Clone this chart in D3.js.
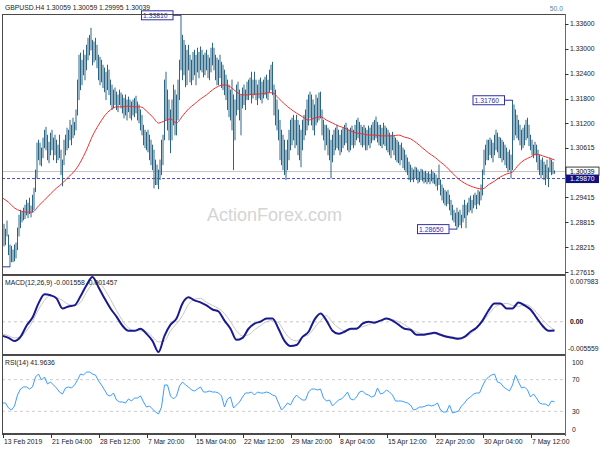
<!DOCTYPE html>
<html><head><meta charset="utf-8">
<script src="https://cdn.jsdelivr.net/npm/d3@7"></script>
<style>
body{margin:0;background:#fff}
svg{display:block}
text{font-family:"Liberation Sans",Arial,sans-serif}
</style>
</head><body>
<svg id="c" width="600" height="450"></svg>
<script>
// ---------- DATA ----------
const symbolTitle = "GBPUSD.H4  1.30059 1.30059 1.29995 1.30039";
const barHigh = [
1.2873,1.2877,1.2865,1.2885, 1.2851,1.2827,1.2824,1.2815, 1.2827,1.2832,1.2868,1.2899, 1.2911,1.2906,1.2916,1.2923,
1.2935,1.2928,1.2940,1.2921, 1.2947,1.2964,1.3008,1.3073, 1.3080,1.3073,1.3061,1.3085, 1.3104,1.3111,1.3092,1.3075,
1.3097,1.3104,1.3085,1.3092, 1.3080,1.3068,1.3092,1.3056, 1.3032,1.3080,1.3092,1.3109, 1.3104,1.3128,1.3116,1.3133,
1.3123,1.3153,1.3225,1.3285, 1.3290,1.3273,1.3297,1.3285, 1.3309,1.3326,1.3333,1.3350, 1.3321,1.3317,1.3326,1.3309,
1.3285,1.3280,1.3273,1.3261, 1.3254,1.3244,1.3261,1.3249, 1.3225,1.3213,1.3201,1.3206, 1.3196,1.3189,1.3201,1.3194,
1.3189,1.3181,1.3189,1.3177, 1.3184,1.3177,1.3172,1.3177, 1.3181,1.3186,1.3172,1.3165, 1.3153,1.3140,1.3116,1.3104,
1.3099,1.3104,1.3092,1.3080, 1.3068,1.3056,1.3032,1.3020, 1.3008,1.3032,1.3080,1.3092, 1.3225,1.3244,1.3201,1.3177,
1.3153,1.3177,1.3213,1.3201, 1.3189,1.3225,1.3273,1.3381, 1.3333,1.3321,1.3309,1.3297, 1.3309,1.3285,1.3273,1.3292,
1.3297,1.3285,1.3302,1.3292, 1.3305,1.3297,1.3285,1.3290, 1.3297,1.3285,1.3278,1.3302, 1.3314,1.3302,1.3285,1.3278,
1.3273,1.3285,1.3268,1.3261, 1.3249,1.3237,1.3225,1.3213, 1.3201,1.3225,1.3189,1.3177, 1.3213,1.3220,1.3201,1.3189,
1.3206,1.3213,1.3201,1.3220, 1.3225,1.3230,1.3244,1.3225, 1.3244,1.3225,1.3213,1.3225, 1.3230,1.3220,1.3225,1.3232,
1.3237,1.3225,1.3249,1.3261, 1.3268,1.3213,1.3201,1.3177, 1.3153,1.3128,1.3104,1.3092, 1.3080,1.3056,1.3080,1.3104,
1.3128,1.3133,1.3140,1.3128, 1.3140,1.3128,1.3116,1.3104, 1.3128,1.3140,1.3153,1.3177, 1.3189,1.3196,1.3189,1.3177,
1.3165,1.3189,1.3181,1.3194, 1.3196,1.3153,1.3128,1.3116, 1.3116,1.3109,1.3104,1.3080, 1.3092,1.3104,1.3109,1.3116,
1.3104,1.3092,1.3104,1.3109, 1.3116,1.3121,1.3109,1.3104, 1.3109,1.3114,1.3104,1.3116, 1.3128,1.3133,1.3123,1.3116,
1.3111,1.3116,1.3109,1.3104, 1.3114,1.3109,1.3116,1.3123, 1.3128,1.3136,1.3123,1.3116, 1.3116,1.3109,1.3121,1.3114,
1.3109,1.3104,1.3097,1.3092, 1.3099,1.3092,1.3085,1.3080, 1.3075,1.3068,1.3073,1.3061, 1.3056,1.3044,1.3037,1.3027,
1.3020,1.3013,1.3008,1.3015, 1.3013,1.3008,1.3003,1.3010, 1.3008,1.3003,1.3005,1.3000, 1.3003,1.2998,1.3008,1.3003,
1.3000,1.2996,1.2988,1.3020, 1.2984,1.2972,1.2964,1.2959, 1.2955,1.2959,1.2947,1.2935, 1.2923,1.2911,1.2904,1.2916,
1.2906,1.2911,1.2899,1.2923, 1.2935,1.2923,1.2928,1.2940, 1.2945,1.2935,1.2947,1.2952, 1.2947,1.2959,1.2955,1.2972,
1.3008,1.3056,1.3068,1.3080, 1.3080,1.3085,1.3080,1.3073, 1.3092,1.3104,1.3097,1.3087, 1.3085,1.3080,1.3075,1.3068,
1.3061,1.3051,1.3056,1.3044, 1.3176,1.3165,1.3153,1.3140, 1.3128,1.3116,1.3104,1.3109, 1.3116,1.3128,1.3133,1.3116,
1.3092,1.3080,1.3068,1.3075, 1.3068,1.3056,1.3044,1.3032, 1.3037,1.3027,1.3020,1.3032, 1.3013,1.3037,1.3032,1.3027,
1.30059
];
const barLow = [
1.2844,1.2824,1.2827,1.2848, 1.2803,1.2774,1.2786,1.2786, 1.2788,1.2795,1.2815,1.2848, 1.2868,1.2882,1.2887,1.2890,
1.2899,1.2892,1.2902,1.2894, 1.2906,1.2911,1.2955,1.2988, 1.3032,1.3020,1.3017,1.3037, 1.3061,1.3056,1.3032,1.3025,
1.3044,1.3056,1.3032,1.3044, 1.3025,1.3032,1.3037,1.2996, 1.2969,1.3020,1.3044,1.3056, 1.3061,1.3080,1.3068,1.3085,
1.3092,1.3104,1.3140,1.3177, 1.3201,1.3213,1.3237,1.3225, 1.3249,1.3273,1.3285,1.3297, 1.3261,1.3268,1.3273,1.3254,
1.3225,1.3213,1.3220,1.3206, 1.3196,1.3177,1.3201,1.3189, 1.3165,1.3153,1.3157,1.3165, 1.3153,1.3148,1.3165,1.3157,
1.3145,1.3133,1.3140,1.3128, 1.3148,1.3133,1.3128,1.3140, 1.3136,1.3145,1.3128,1.3121, 1.3104,1.3092,1.3068,1.3061,
1.3056,1.3051,1.3032,1.3020, 1.3008,1.2964,1.2972,1.2972, 1.2962,1.2984,1.2996,1.3020, 1.3080,1.3128,1.3104,1.3080,
1.3049,1.3080,1.3116,1.3092, 1.3092,1.3128,1.3177,1.3249, 1.3225,1.3237,1.3208,1.3213, 1.3249,1.3220,1.3213,1.3225,
1.3237,1.3213,1.3244,1.3230, 1.3249,1.3244,1.3232,1.3237, 1.3249,1.3230,1.3225,1.3244, 1.3261,1.3249,1.3225,1.3213,
1.3213,1.3230,1.3206,1.3201, 1.3189,1.3177,1.3153,1.3136, 1.3128,1.3104,1.3008,1.3080, 1.3140,1.3153,1.3128,1.3092,
1.3157,1.3165,1.3153,1.3177, 1.3177,1.3189,1.3169,1.3181, 1.3189,1.3177,1.3165,1.3181, 1.3177,1.3169,1.3181,1.3189,
1.3181,1.3177,1.3196,1.3201, 1.3189,1.3140,1.3116,1.3104, 1.3080,1.3032,1.3020,1.3008, 1.2996,1.2984,1.3008,1.3032,
1.3056,1.3068,1.3080,1.3061, 1.3068,1.3044,1.3032,1.3015, 1.3056,1.3080,1.3092,1.3104, 1.3116,1.3133,1.3116,1.3104,
1.3092,1.3116,1.3123,1.3128, 1.3133,1.3092,1.3080,1.3056, 1.3068,1.3044,1.3032,1.2988, 1.3027,1.3044,1.3056,1.3061,
1.3056,1.3044,1.3051,1.3061, 1.3068,1.3073,1.3056,1.3051, 1.3056,1.3068,1.3061,1.3068, 1.3080,1.3085,1.3075,1.3068,
1.3063,1.3068,1.3056,1.3056, 1.3068,1.3061,1.3073,1.3080, 1.3080,1.3085,1.3075,1.3068, 1.3066,1.3061,1.3070,1.3066,
1.3056,1.3051,1.3044,1.3037, 1.3056,1.3044,1.3032,1.3027, 1.3025,1.3020,1.3032,1.3013, 1.3008,1.3003,1.2996,1.2984,
1.2979,1.2984,1.2979,1.2988, 1.2984,1.2976,1.2979,1.2984, 1.2981,1.2976,1.2979,1.2974, 1.2979,1.2974,1.2981,1.2976,
1.2974,1.2969,1.2959,1.2972, 1.2947,1.2935,1.2928,1.2923, 1.2921,1.2926,1.2911,1.2899, 1.2887,1.2882,1.2873,1.2865,
1.2870,1.2875,1.2868,1.2882, 1.2892,1.2868,1.2899,1.2906, 1.2911,1.2904,1.2916,1.2923, 1.2914,1.2926,1.2923,1.2935,
1.2947,1.2996,1.3020,1.3032, 1.3032,1.3044,1.3037,1.3027, 1.3044,1.3056,1.3051,1.3037, 1.3037,1.3027,1.3032,1.3020,
1.3013,1.3003,1.3008,1.2988, 1.3008,1.3080,1.3092,1.3085, 1.3080,1.3068,1.3056,1.3061, 1.3068,1.3080,1.3085,1.3066,
1.3056,1.3044,1.3037,1.3044, 1.3027,1.3008,1.2996,1.2988, 1.2996,1.2984,1.2972,1.2988, 1.2967,1.3003,1.2996,1.2998,
1.29995
];
// moving average, one value every 4 bars
const maStep = 4;
const maValues = [
1.2940,1.2930,1.2916,1.2909,1.2906,1.2906,1.2921,1.2935,1.2950,1.2964,
1.2976,1.2991,1.3005,1.3027,1.3056,1.3090,1.3116,1.3138,1.3153,1.3160,
1.3160,1.3162,1.3160,1.3160,1.3150,1.3136,1.3121,1.3126,1.3131,1.3121,
1.3138,1.3155,1.3167,1.3179,1.3189,1.3201,1.3210,1.3213,1.3208,1.3196,
1.3189,1.3189,1.3191,1.3191,1.3194,1.3194,1.3181,1.3167,1.3155,1.3145,
1.3136,1.3128,1.3133,1.3136,1.3128,1.3121,1.3114,1.3109,1.3102,1.3097,
1.3095,1.3092,1.3092,1.3090,1.3090,1.3090,1.3092,1.3087,1.3083,1.3073,
1.3061,1.3049,1.3039,1.3027,1.3015,1.3000,1.2986,1.2976,1.2969,1.2964,
1.2962,1.2972,1.2981,1.2991,1.2998,1.3003,1.3020,1.3032,1.3039,1.3046,
1.3042,1.3037,1.3032
];
// MACD(12,26,9), one value every 4 bars
const macdStep = 4;
const macdMain = [
-0.00250,-0.00286,-0.00340,-0.00268,-0.00070,0.00075,0.00328,0.00490,0.00472,0.00418,
0.00238,0.00274,0.00292,0.00454,0.00653,0.00798,0.00617,0.00418,0.00238,0.00093,
-0.00070,-0.00160,-0.00160,-0.00124,-0.00214,-0.00340,-0.00540,-0.00250,-0.00051,0.00057,
0.00328,0.00436,0.00382,0.00346,0.00292,0.00219,0.00183,0.00021,-0.00124,-0.00322,
-0.00286,-0.00124,-0.00033,0.00003,0.00057,0.00057,-0.00124,-0.00340,-0.00431,-0.00413,
-0.00268,-0.00178,0.00039,0.00147,0.00021,-0.00160,-0.00214,-0.00178,-0.00124,-0.00124,
-0.00033,0.00003,-0.00015,0.00021,0.00057,0.00021,-0.00051,-0.00124,-0.00142,-0.00232,
-0.00232,-0.00214,-0.00196,-0.00232,-0.00268,-0.00286,-0.00304,-0.00268,-0.00178,-0.00106,
0.00021,0.00201,0.00328,0.00328,0.00238,0.00238,0.00346,0.00292,0.00219,0.00075,
-0.00070,-0.00160,-0.001558
];
const macdSignal = [
-0.00214,-0.00250,-0.00286,-0.00268,-0.00160,0.00003,0.00219,0.00382,0.00472,0.00436,
0.00382,0.00310,0.00292,0.00346,0.00526,0.00671,0.00707,0.00581,0.00400,0.00201,
0.00021,-0.00106,-0.00160,-0.00160,-0.00178,-0.00268,-0.00358,-0.00340,-0.00160,-0.00033,
0.00111,0.00310,0.00400,0.00418,0.00346,0.00292,0.00238,0.00147,0.00003,-0.00160,
-0.00250,-0.00232,-0.00142,-0.00070,0.00003,0.00021,-0.00015,-0.00178,-0.00304,-0.00340,
-0.00268,-0.00232,-0.00106,0.00021,0.00111,-0.00015,-0.00106,-0.00160,-0.00142,-0.00106,
-0.00088,-0.00051,-0.00015,0.00021,0.00057,0.00039,0.00003,-0.00051,-0.00124,-0.00178,
-0.00214,-0.00214,-0.00214,-0.00232,-0.00250,-0.00268,-0.00286,-0.00268,-0.00214,-0.00124,
0.00003,0.00129,0.00256,0.00310,0.00328,0.00292,0.00274,0.00310,0.00274,0.00165,
0.00039,-0.00070,-0.001457
];
// RSI(14), one value every 2 bars
const rsiStep = 2;
const rsiValues = [
40.5,40.5,34.2,31.6,36.7,50.6,58.2,60.8,60.8,58.2,
60.8,73.4,77.2,69.6,73.4,64.6,67.1,63.3,59.5,54.4,
51.9,59.5,60.8,59.5,63.3,69.6,77.2,75.9,79.7,79.7,
77.2,75.9,68.4,63.3,57.0,50.6,49.4,53.2,44.3,41.8,
41.8,40.5,45.6,43.0,46.8,46.8,49.4,41.8,35.4,36.7,
32.9,29.1,26.6,35.4,63.3,63.3,49.4,45.6,49.4,62.0,
67.1,63.3,60.8,57.0,55.7,58.2,60.8,54.4,54.4,55.7,
54.4,54.4,53.2,49.4,35.4,45.6,48.1,34.2,38.0,41.8,
48.1,53.2,53.2,54.4,50.6,54.4,53.2,53.2,54.4,53.2,
50.6,49.4,40.5,31.6,35.4,40.5,38.0,45.6,50.6,46.8,
44.3,44.3,54.4,58.2,58.2,57.0,58.2,46.8,43.0,44.3,
36.7,40.5,44.3,45.6,49.4,54.4,45.6,44.3,48.1,54.4,
55.7,51.9,50.6,48.1,49.4,59.5,51.9,53.2,57.0,54.4,
50.6,43.0,43.0,43.0,41.8,40.5,38.0,31.6,32.9,35.4,
35.4,36.7,38.0,36.7,38.0,40.5,31.6,29.1,29.1,38.0,
27.8,29.1,30.4,36.7,40.5,45.6,48.1,51.9,53.2,53.2,
62.0,69.6,73.4,75.9,77.2,67.1,65.8,60.8,58.2,55.7,
63.3,75.9,67.1,59.5,60.8,57.0,48.1,51.9,46.8,40.5,
39.2,39.2,36.7,43.0,41.9636
];
const timeLabels = ["13 Feb 2019","21 Feb 04:00","28 Feb 12:00","7 Mar 20:00","15 Mar 04:00","22 Mar 12:00",
  "29 Mar 20:00","8 Apr 04:00","15 Apr 12:00","22 Apr 20:00","30 Apr 04:00","7 May 12:00"];
const timeLabelStep = 32;
const priceTicks = [1.336,1.330,1.324,1.318,1.312,1.30615,1.29415,1.28815,1.28215,1.27615];
const priceRange = [1.27567, 1.33841];
const macdRange = [-0.005559, 0.007983];
const macdTickLabels = ["0.007983","0.00","-0.005559"];
const rsiTicks = [100,70,30,0];
const rsiLevels = [70,30];
const bidPrice = 1.30039;
const levelPrice = 1.29870;
const extremes = [
  {bar:5,   price:1.2774, label:"1.27740"},
  {bar:119, price:1.3381, label:"1.33810"},
  {bar:303, price:1.2865, label:"1.28650"},
  {bar:340, price:1.3176, label:"1.31760"}
];
const macdTitle = "MACD(12,26,9) -0.001558 -0.001457";
const rsiTitle = "RSI(14) 41.9636";
const fiboText = "50.0";
const watermark = "ActionForex.com";

// ---------- LAYOUT ----------
const svg = d3.select("#c");
const L = 2, AX = 565;
const mainTop = 14, mainBottom = 274;
const macdTop = 275, macdBottom = 355;
const rsiTop = 355, rsiBottom = 434;
const FS = 6.8;

const xBar = d3.scaleLinear().domain([0, barHigh.length - 1]).range([2.5, 2.5 + 1.5 * (barHigh.length - 1)]);
const yPrice = d3.scaleLinear().domain(priceRange).range([mainBottom, mainTop]);
const yMacd = d3.scaleLinear().domain(macdRange).range([353, 277]);
const yRsi = d3.scaleLinear().domain([0, 100]).range([435, 356]);
const fmt5 = d3.format(".5f");

svg.append("rect").attr("width", 600).attr("height", 450).attr("fill", "#fff");

// watermark
svg.append("text").attr("x", 207).attr("y", 221).attr("font-size", 18)
  .attr("fill", "#d4d4d4").text(watermark);

// bid line and level line
svg.append("line").attr("x1", L).attr("x2", AX).attr("y1", yPrice(bidPrice)).attr("y2", yPrice(bidPrice))
  .attr("stroke", "#c4c4c4").attr("stroke-width", 1);
svg.append("line").attr("x1", L).attr("x2", AX).attr("y1", yPrice(levelPrice)).attr("y2", yPrice(levelPrice))
  .attr("stroke", "#4848c0").attr("stroke-width", 1).attr("stroke-dasharray", "3,2");

// bars
svg.append("g").selectAll("line").data(barHigh).join("line")
  .attr("x1", (d, i) => xBar(i)).attr("x2", (d, i) => xBar(i))
  .attr("y1", d => yPrice(d) - 0.3).attr("y2", (d, i) => yPrice(barLow[i]) + 0.3)
  .attr("stroke", "#2c6686").attr("stroke-width", 1);

// moving average
svg.append("path").datum(maValues)
  .attr("d", d3.line().x((d, k) => xBar(k * maStep)).y(d => yPrice(d)).curve(d3.curveMonotoneX))
  .attr("fill", "none").attr("stroke", "#ee3030").attr("stroke-width", 1);

// extreme markers (label box drawn to the left of the bar; a box running off the left edge shows only its edge)
const mk = svg.append("g");
extremes.forEach(e => {
  const bx = xBar(e.bar), by = yPrice(e.price);
  const bw = 31.5, bh = 9;
  let right = bx - 8;
  if (right - bw < L) right = L + 0.5;
  mk.append("line").attr("x1", right).attr("x2", bx).attr("y1", by).attr("y2", by)
    .attr("stroke", "#3030a8").attr("stroke-width", 1);
  if (right - bw >= L) {
    mk.append("rect").attr("x", right - bw).attr("y", by - bh / 2).attr("width", bw).attr("height", bh)
      .attr("fill", "#fff").attr("stroke", "#3030a8").attr("stroke-width", 1);
    mk.append("text").attr("x", right - bw + 1.5).attr("y", by + 2.6).attr("font-size", FS)
      .attr("fill", "#3030a8").text(e.label);
  } else {
    mk.append("line").attr("x1", right).attr("x2", right).attr("y1", by - bh / 2).attr("y2", by + bh / 2)
      .attr("stroke", "#3030a8").attr("stroke-width", 1);
  }
});

// ---------- MACD ----------
svg.append("line").attr("x1", L).attr("x2", AX).attr("y1", yMacd(0)).attr("y2", yMacd(0))
  .attr("stroke", "#c8c8c8").attr("stroke-dasharray", "3,3");
svg.append("path").datum(macdSignal)
  .attr("d", d3.line().x((d, k) => xBar(k * macdStep)).y(d => yMacd(d)).curve(d3.curveMonotoneX))
  .attr("fill", "none").attr("stroke", "#c6c6c6").attr("stroke-width", 1);
svg.append("path").datum(macdMain)
  .attr("d", d3.line().x((d, k) => xBar(k * macdStep)).y(d => yMacd(d)).curve(d3.curveMonotoneX))
  .attr("fill", "none").attr("stroke", "#1a1a8e").attr("stroke-width", 2);

// ---------- RSI ----------
svg.append("g").selectAll("line").data(rsiLevels).join("line")
  .attr("x1", L).attr("x2", AX).attr("y1", d => yRsi(d)).attr("y2", d => yRsi(d))
  .attr("stroke", "#cccccc").attr("stroke-dasharray", "3,3");
svg.append("path").datum(rsiValues)
  .attr("d", d3.line().x((d, k) => xBar(k * rsiStep)).y(d => yRsi(d)))
  .attr("fill", "none").attr("stroke", "#3a9cff").attr("stroke-width", 1);

// ---------- FRAMES ----------
const fr = svg.append("g").attr("stroke", "#4a4a4a").attr("fill", "none");
fr.append("line").attr("x1", L).attr("x2", AX).attr("y1", mainTop + 0.5).attr("y2", mainTop + 0.5);
fr.append("line").attr("x1", L + 0.5).attr("x2", L + 0.5).attr("y1", mainTop).attr("y2", rsiBottom);
fr.append("line").attr("x1", AX + 0.5).attr("x2", AX + 0.5).attr("y1", mainTop).attr("y2", rsiBottom + 2).attr("stroke", "#6a6a6a");
[mainBottom + 1, macdBottom, rsiBottom].forEach(y => {
  fr.append("line").attr("x1", L).attr("x2", AX).attr("y1", y).attr("y2", y).attr("stroke-width", 2);
});

// ---------- TEXTS ----------
svg.append("text").attr("x", 5).attr("y", 9.5).attr("font-size", FS).attr("fill", "#222").text(symbolTitle);
svg.append("text").attr("x", 563).attr("y", 11).attr("font-size", FS).attr("text-anchor", "end")
  .attr("fill", "#4d88a6").text(fiboText);
svg.append("text").attr("x", 5).attr("y", 285).attr("font-size", FS).attr("fill", "#222").text(macdTitle);
svg.append("text").attr("x", 5).attr("y", 365).attr("font-size", FS).attr("fill", "#222").text(rsiTitle);

// price axis
const pa = svg.append("g");
pa.selectAll("line").data(priceTicks).join("line")
  .attr("x1", AX).attr("x2", AX + 3.5).attr("y1", d => Math.round(yPrice(d)) + 0.5).attr("y2", d => Math.round(yPrice(d)) + 0.5)
  .attr("stroke", "#333");
pa.selectAll("text").data(priceTicks).join("text")
  .attr("x", 570).attr("y", d => yPrice(d) + 2.5).attr("font-size", FS).attr("fill", "#222").text(d => fmt5(d));

// bid label
const by0 = yPrice(bidPrice);
svg.append("rect").attr("x", 566).attr("y", by0 - 4.5).attr("width", 33).attr("height", 8.5)
  .attr("fill", "#fff").attr("stroke", "#111").attr("stroke-width", 0.8);
svg.append("text").attr("x", 570).attr("y", by0 + 2.4).attr("font-size", FS).attr("fill", "#000").text(fmt5(bidPrice));
const ly0 = yPrice(levelPrice);
svg.append("rect").attr("x", 566).attr("y", ly0 - 4).attr("width", 33).attr("height", 8.5)
  .attr("fill", "#101080");
svg.append("text").attr("x", 570).attr("y", ly0 + 2.6).attr("font-size", FS).attr("fill", "#fff").text(fmt5(levelPrice));

// MACD axis labels
svg.append("text").attr("x", 570).attr("y", 284).attr("font-size", FS).attr("fill", "#222").text(macdTickLabels[0]);
svg.append("text").attr("x", 570).attr("y", yMacd(0) + 2.5).attr("font-size", FS).attr("font-weight", "bold").attr("fill", "#111").text(macdTickLabels[1]);
svg.append("text").attr("x", 568).attr("y", 351).attr("font-size", FS).attr("fill", "#222").text(macdTickLabels[2]);

// RSI axis labels
const rsiLabelY = {100: 364.5, 70: yRsi(70) + 2.5, 30: yRsi(30) + 2.5, 0: 432};
svg.append("g").selectAll("text").data(rsiTicks).join("text")
  .attr("x", 572).attr("y", d => rsiLabelY[d]).attr("font-size", FS).attr("fill", "#222").text(d => d);

// time axis
const ta = svg.append("g");
ta.selectAll("line").data(timeLabels).join("line")
  .attr("x1", (d, k) => Math.round(xBar(k * timeLabelStep)) + 0.5).attr("x2", (d, k) => Math.round(xBar(k * timeLabelStep)) + 0.5)
  .attr("y1", rsiBottom).attr("y2", rsiBottom + 4).attr("stroke", "#333");
ta.selectAll("text").data(timeLabels).join("text")
  .attr("x", (d, k) => xBar(k * timeLabelStep) + 1.5).attr("y", 444).attr("font-size", FS).attr("fill", "#222").text(d => d);
</script>
</body></html>
